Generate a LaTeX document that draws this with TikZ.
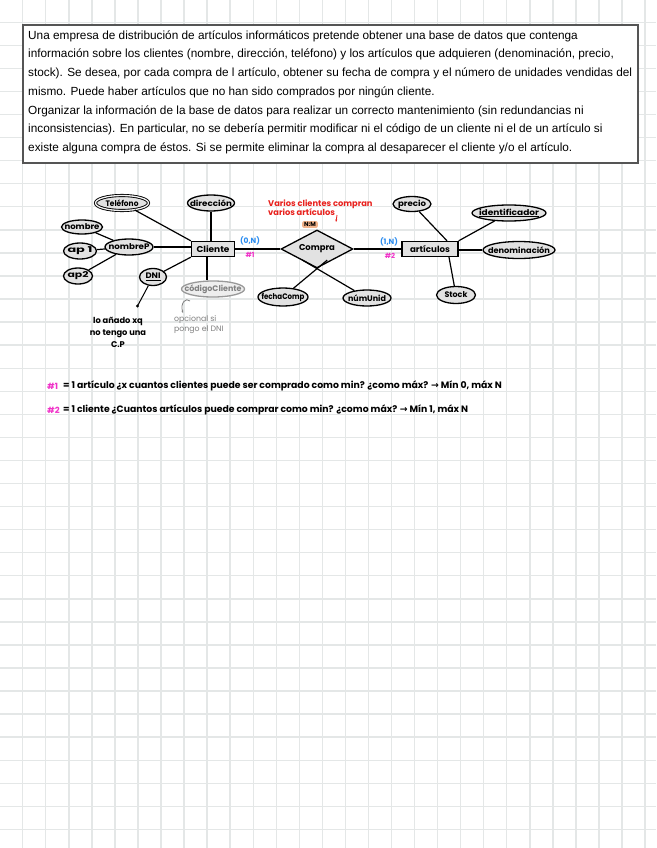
\documentclass[tikz,border=0pt]{standalone}
\usepackage{fontspec}
\setmainfont{Liberation Sans}
\newfontfamily\hand{Poppins}
\newfontfamily\sym{DejaVu Sans}
\usetikzlibrary{shapes.geometric,calc,arrows.meta}
\definecolor{gridc}{HTML}{E4E7E7}
\definecolor{fillc}{HTML}{E2E2E2}
\definecolor{bluec}{HTML}{2A8CF0}
\definecolor{pinkc}{HTML}{F032C8}
\definecolor{redc}{HTML}{E8201C}
\definecolor{nmc}{HTML}{F2B48C}
\definecolor{boxc}{HTML}{555555}
\newlength\lwlen
\newcommand\lw[2]{\settowidth\lwlen{#2}\makebox[0pt]{\scalebox{\fpeval{(#1pt)/(\lwlen)}}[1]{#2}}}
\begin{document}
\begin{tikzpicture}[x=1pt,y=-1pt,
  gridline/.style={draw=gridc,line width=1.4pt},
  attr/.style={ellipse,draw=black,line width=1.3pt,fill=fillc,inner sep=0pt,minimum height=16pt,font=\hand\bfseries\fontsize{8}{8}\selectfont},
  ent/.style={rectangle,draw=black,line width=1.4pt,fill=fillc,inner sep=0pt,minimum height=15pt,font=\hand\bfseries\fontsize{8.5}{8}\selectfont},
  conn/.style={line width=1.2pt},
  boxtext/.style={anchor=west,inner sep=0pt,font=\fontsize{11.8}{13}\selectfont},
  hw/.style={inner sep=0pt,font=\hand\bfseries\fontsize{8}{9}\selectfont},
  cardl/.style={inner sep=0pt,text=bluec,font=\hand\bfseries\fontsize{7.5}{8}\selectfont},
  hashl/.style={inner sep=0pt,text=pinkc,font=\hand\bfseries\fontsize{7}{8}\selectfont}
]
\useasboundingbox (0,0) rectangle (656,848);
\fill[white] (0,0) rectangle (656,848);
% grid
\foreach \k in {0,...,27} {\draw[gridline] ({22.7+23.05*\k},0) -- ({22.7+23.05*\k},848);}
\foreach \k in {0,...,35} {\draw[gridline] (0,{22.3+23.06*\k}) -- (656,{22.3+23.06*\k});}
% statement box
\node[draw=boxc,line width=1.5pt,fill=white,minimum width=615pt,minimum height=138pt,inner sep=0pt] (stmt) at (330.5,94) {};
\node[boxtext] (t1) at (28,36) {Una empresa de distribución de artículos informáticos pretende obtener una base de datos que contenga};
\node[boxtext] (t2) at (28,54.5) {información sobre los clientes (nombre, dirección, teléfono) y los artículos que adquieren (denominación, precio,};
\node[boxtext] (t3) at (28,73) {stock). Se desea, por cada compra de l artículo, obtener su fecha de compra y el número de unidades vendidas del};
\node[boxtext] (t4) at (28,92) {mismo. Puede haber artículos que no han sido comprados por ningún cliente.};
\node[boxtext] (t5) at (28,111) {Organizar la información de la base de datos para realizar un correcto mantenimiento (sin redundancias ni};
\node[boxtext] (t6) at (28,129.5) {inconsistencias). En particular, no se debería permitir modificar ni el código de un cliente ni el de un artículo si};
\node[boxtext] (t7) at (28,148) {existe alguna compra de éstos. Si se permite eliminar la compra al desaparecer el cliente y/o el artículo.};
% ER nodes
\node[attr,minimum width=53pt,minimum height=15pt,line width=0.9pt,double=fillc!40,double distance=1.3pt] (tel) at (122,203) {\lw{33}{Teléfono}};
\node[attr,minimum width=47pt] (dir) at (211,203) {\lw{42}{dirección}};
\node[attr,minimum width=41pt,minimum height=14pt] (nom) at (82,227) {\lw{35}{nombre}};
\node[attr,minimum width=48pt] (nomP) at (129,247) {\lw{41}{nombreP}};
\node[attr,minimum width=33pt] (ap1) at (80,251) {\lw{25}{ap 1}};
\node[attr,minimum width=29pt] (ap2) at (78,276) {\lw{21}{ap2}};
\node[attr,minimum width=27pt,minimum height=17pt] (dni) at (153,277) {\lw{15}{\underline{DNI}}};
\node[ent,minimum width=43pt] (cli) at (213,249) {\lw{33}{Cliente}};
\node[attr,draw=gray!80,fill=fillc!60,text=gray,minimum width=63pt] (cod) at (213,289) {\lw{57}{códigoCliente}};
\node[diamond,draw=black,line width=1.3pt,fill=fillc,inner sep=0pt,minimum width=72pt,minimum height=38pt,font=\hand\bfseries\fontsize{8.5}{8}\selectfont] (compra) at (317,249) {\lw{36}{Compra}};
\node[attr,minimum width=50pt,minimum height=18pt] (fecha) at (283,297) {\lw{43}{fechaComp}};
\node[attr,minimum width=48pt] (num) at (367,298) {\lw{38}{númUnid}};
\node[ent,minimum width=56pt] (art) at (430,249) {\lw{40}{artículos}};
\node[attr,minimum width=38pt,minimum height=15pt] (precio) at (412,204) {\lw{28}{precio}};
\node[attr,minimum width=74pt] (ident) at (509,213) {\lw{60}{\underline{identificador}}};
\node[attr,minimum width=72pt,minimum height=17pt] (denom) at (519,250) {\lw{62}{denominación}};
\node[attr,minimum width=39pt,minimum height=17pt] (stock) at (456,295) {\lw{23}{Stock}};
% connectors
\draw[conn] (tel) -- (cli.north west);
\draw[conn] (dir.south) -- (dir.south |- cli.north);
\draw[conn] (nomP.east) -- (nomP.east -| cli.west);
\draw[conn] (nom) -- (nomP);
\draw[conn] (ap1) -- (nomP);
\draw[conn] (ap2) -- (nomP);
\draw[conn] (dni) -- (cli.south west);
\draw[conn] ([xshift=-6pt]cli.south) -- ([xshift=-6pt]cli.south |- cod.north);
\draw[conn] (cli.east) -- (compra.west);
\draw[conn] (compra.east) -- (art.west);
\draw[conn] (fecha) -- ($(fecha)!1.3!(compra.south)$);
\draw[conn] (num) -- ($(num)!1.3!(compra.south)$);
\draw[conn] (precio) -- ([xshift=17pt]art.north);
\draw[conn] (ident) -- (art.north east);
\draw[conn] (denom.west) -- (denom.west -| art.east);
\draw[conn] (stock) -- ([xshift=19pt]art.south);
% cardinalities
\node[cardl] (c0n) at (250,241) {(0,N)};
\node[hashl] (h1) at (250,255) {\#1};
\node[cardl] (c1n) at (389,242) {(1,N)};
\node[hashl] (h2) at (390,256) {\#2};
% red note
\node[hw,anchor=west,text=redc,font=\hand\bfseries\fontsize{8.3}{9}\selectfont] (red1) at (268,204) {Varios clientes compran};
\node[hw,anchor=west,text=redc,font=\hand\bfseries\fontsize{8.3}{9}\selectfont] (red2) at (268,212.5) {varios artículos};
\coordinate (ra1) at (337,215);
\coordinate (ra2) at (336,222);
\draw[redc,line width=0.8pt,-{Stealth[length=2.5pt]}] (ra1) -- (ra2);
\node[fill=nmc,rounded corners=2pt,inner xsep=2pt,inner ysep=1.3pt,font=\hand\bfseries\fontsize{6}{6}\selectfont] (nm) at (310,224.5) {N:M};
% DNI note
\coordinate (dnidot) at (137.5,306);
\draw[line width=1pt] (dni) -- (dnidot);
\fill (dnidot) circle (1.6pt);
\node[hw,align=center,font=\hand\bfseries\fontsize{8.3}{12}\selectfont] (dninote) at (118,332) {lo añado xq\\no tengo una\\C.P};
% codigo note
\coordinate (cc1) at (190,301);
\coordinate (cc2) at (183,313);
\draw[gray,line width=0.8pt,-{Stealth[length=2.5pt]}] (cc1) .. controls (186,297) and (180,303) .. (cc2);
\node[hw,align=left,anchor=north west,text=gray,font=\hand\fontsize{7.8}{10}\selectfont] (codnote) at (174,315) {opcional si\\pongo el DNI};
% bottom notes
\node[hashl,anchor=west,font=\hand\bfseries\fontsize{8.5}{8}\selectfont] (n1h) at (47,386) {\#1};
\node[hw,anchor=west,font=\hand\bfseries\fontsize{9.3}{10}\selectfont] (n1) at (63,386) {= 1 artículo ¿x cuantos clientes puede ser comprado como min? ¿como máx? {\sym→} Mín 0, máx N};
\node[hashl,anchor=west,font=\hand\bfseries\fontsize{8.5}{8}\selectfont] (n2h) at (47,410) {\#2};
\node[hw,anchor=west,font=\hand\bfseries\fontsize{9.3}{10}\selectfont] (n2) at (63,410) {= 1 cliente ¿Cuantos artículos puede comprar como min? ¿como máx? {\sym→} Mín 1, máx N};
\end{tikzpicture}
\end{document}
